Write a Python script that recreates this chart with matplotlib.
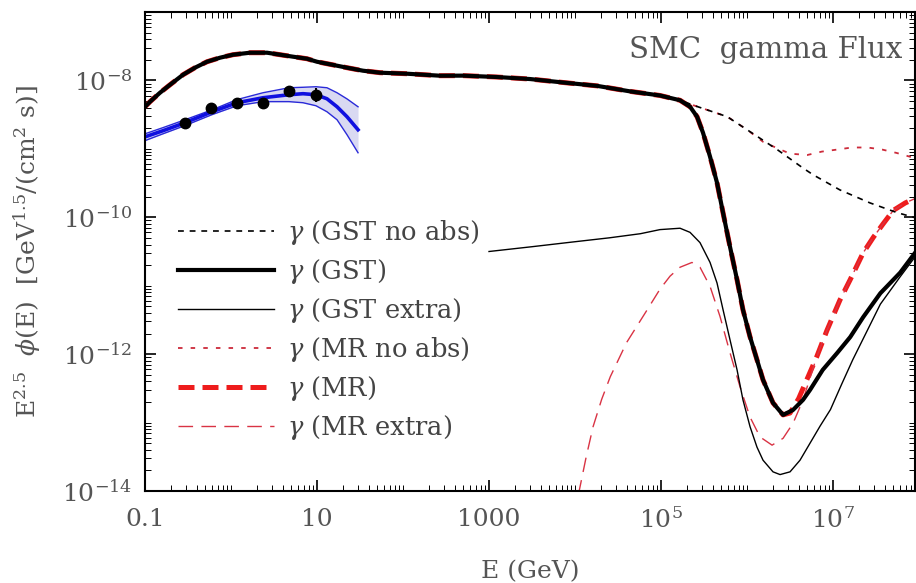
import numpy as np
import matplotlib
matplotlib.use("Agg")
import matplotlib.pyplot as plt
from matplotlib.ticker import LogLocator, NullFormatter

plt.rcParams['font.family'] = 'DejaVu Serif'
plt.rcParams['mathtext.fontset'] = 'dejavuserif'

# all curves are stored as log10(E / GeV) and log10(E^2.5 phi)
# GST total flux (absorbed)
gst_logE = [-1.0, -0.942, -0.826, -0.709, -0.558, -0.419, -0.279, -0.128, 0.023, 0.221,
            0.419, 0.570, 0.721, 0.884, 1.0, 1.174, 1.349, 1.535, 1.733, 2.047,
            2.43, 2.70, 3.09, 3.48, 3.86, 4.26, 4.64, 4.988, 5.221, 5.337,
            5.419, 5.488, 5.570, 5.651, 5.721, 5.802, 5.884, 5.953, 6.035, 6.116,
            6.186, 6.302, 6.419, 6.535, 6.651, 6.733, 6.88, 7.05, 7.20, 7.35,
            7.55, 7.78, 7.965]
gst_logF = [-8.385, -8.311, -8.180, -8.063, -7.917, -7.814, -7.727, -7.668, -7.624, -7.595,
            -7.595, -7.624, -7.653, -7.683, -7.727, -7.770, -7.814, -7.858, -7.887, -7.902,
            -7.931, -7.93, -7.95, -7.98, -8.03, -8.08, -8.16, -8.22, -8.29, -8.384,
            -8.530, -8.764, -9.115, -9.495, -9.934, -10.431, -10.914, -11.353, -11.748, -12.084,
            -12.376, -12.712, -12.888, -12.815, -12.668, -12.522, -12.23, -11.98, -11.75, -11.46,
            -11.11, -10.81, -10.50]

# high energy tail without absorption (below 1e5 GeV it is the same as the total)
gst_noabs_logE = [5.221, 5.37, 5.77, 6.0, 6.35, 6.65, 6.77, 7.08, 7.43, 7.74, 7.965]
gst_noabs_logF = [-8.29, -8.36, -8.53, -8.72, -9.01, -9.28, -9.38, -9.60, -9.79, -9.93, -10.01]

gst_extra_logE = [3.0, 3.50, 3.98, 4.40, 4.76, 4.988, 5.221, 5.337, 5.453, 5.570,
                  5.651, 5.721, 5.802, 5.884, 5.953, 6.035, 6.116, 6.186, 6.302, 6.384,
                  6.500, 6.616, 6.733, 6.85, 6.97, 7.10, 7.23, 7.40, 7.55, 7.78, 7.965]
gst_extra_logF = [-10.50, -10.43, -10.36, -10.30, -10.24, -10.18, -10.16, -10.22, -10.37, -10.66,
                  -10.96, -11.35, -11.79, -12.23, -12.67, -13.06, -13.36, -13.55, -13.72, -13.76,
                  -13.72, -13.55, -13.30, -13.05, -12.81, -12.44, -12.08, -11.65, -11.27, -10.87, -10.56]

# MR model: identical to GST below ~2e6 GeV
mr_tail_logE = [6.50, 6.60, 6.70, 6.81, 6.93, 7.08, 7.20, 7.35, 7.47, 7.58, 7.70, 7.84, 7.965]
mr_tail_logF = [-12.86, -12.65, -12.36, -12.04, -11.65, -11.21, -10.91, -10.52, -10.29, -10.10, -9.90, -9.79, -9.72]

mr_noabs_logE = [5.221, 5.37, 5.77, 6.0, 6.19, 6.35, 6.50, 6.70, 6.87, 7.05, 7.22, 7.40, 7.57, 7.74, 7.965]
mr_noabs_logF = [-8.29, -8.36, -8.53, -8.72, -8.90, -8.99, -9.07, -9.09, -9.04, -9.01, -8.98, -8.98, -9.01, -9.06, -9.14]

mr_extra_logE = [4.04, 4.13, 4.21, 4.31, 4.41, 4.60, 4.84, 4.988, 5.105, 5.221, 5.36,
                 5.453, 5.570, 5.686, 5.802, 5.919, 6.035, 6.151, 6.291, 6.419, 6.535, 6.651]
mr_extra_logF = [-14.05, -13.50, -13.06, -12.66, -12.33, -11.83, -11.35, -11.05, -10.86, -10.73, -10.66,
                 -10.73, -11.01, -11.45, -11.98, -12.48, -12.92, -13.21, -13.33, -13.23, -13.01, -12.67]

# Fermi-LAT fit band and points
fit_logE = [-1.0, -0.791, -0.535, -0.221, 0.070, 0.372, 0.674, 0.837, 0.988, 1.116, 1.233, 1.349, 1.477]
fit_mid = [-8.825, -8.735, -8.618, -8.458, -8.326, -8.253, -8.209, -8.194, -8.209, -8.268, -8.385, -8.531, -8.721]
fit_hi = [-8.78, -8.69, -8.575, -8.43, -8.28, -8.18, -8.107, -8.10, -8.092, -8.107, -8.18, -8.27, -8.385]
fit_lo = [-8.88, -8.78, -8.66, -8.50, -8.37, -8.31, -8.31, -8.326, -8.37, -8.458, -8.575, -8.794, -9.057]

data_logE = [-0.535, -0.23, 0.07, 0.37, 0.67, 0.99]
data_logF = [-8.62, -8.41, -8.33, -8.33, -8.15, -8.21]
data_err = [0.0, 0.0, 0.0, 0.0, 0.0, 0.10]


def p(a):
    return 10.0 ** np.asarray(a)


gE, gF = np.asarray(gst_logE), np.asarray(gst_logF)
low = gE < 5.2
noabsE = np.concatenate([gE[low], gst_noabs_logE])
noabsF = np.concatenate([gF[low], gst_noabs_logF])
mrnE = np.concatenate([gE[low], mr_noabs_logE])
mrnF = np.concatenate([gF[low], mr_noabs_logF])
keep = gE < 6.45
mrE = np.concatenate([gE[keep], mr_tail_logE])
mrF = np.concatenate([gF[keep], mr_tail_logF])
tE, tF = np.asarray(mr_tail_logE), np.asarray(mr_tail_logF)
mrxE = np.concatenate([mr_extra_logE, tE[tE > 6.75]])
mrxF = np.concatenate([mr_extra_logF, tF[tE > 6.75]])

fig = plt.figure(figsize=(9.16, 5.83), dpi=100)
ax = fig.add_axes([145 / 916, 92 / 583, 770 / 916, 479 / 583])

red = '#ee1c1c'
h_mr, = ax.plot(p(mrE), p(mrF), color=red, lw=3.6, dashes=(3.2, 1.6), label=r'$\gamma$ (MR)', zorder=2)
h_mrx, = ax.plot(p(mrxE), p(mrxF), color='#d93344', lw=1.0, dashes=(10.5, 6), label=r'$\gamma$ (MR extra)', zorder=2)
h_mrn, = ax.plot(p(mrnE), p(mrnF), color='#cc2a3a', lw=1.3, dashes=(2.5, 4.5), label=r'$\gamma$ (MR no abs)', zorder=2)
h_gn, = ax.plot(p(noabsE), p(noabsF), color='black', lw=1.2, dashes=(3.5, 3.5), label=r'$\gamma$ (GST no abs)', zorder=3)
h_gx, = ax.plot(p(gst_extra_logE), p(gst_extra_logF), color='black', lw=1.0, label=r'$\gamma$ (GST extra)', zorder=3)
h_g, = ax.plot(p(gE), p(gF), color='black', lw=3.0, label=r'$\gamma$ (GST)', zorder=4)

# fit band
ax.fill_between(p(fit_logE), p(fit_lo), p(fit_hi), color='#d9d9f2', lw=0, zorder=1)
ax.plot(p(fit_logE), p(fit_hi), color='#2a2ad8', lw=1.0, zorder=2)
ax.plot(p(fit_logE), p(fit_lo), color='#2a2ad8', lw=1.0, zorder=2)
ax.plot(p(fit_logE), p(fit_mid), color='#1010e0', lw=2.6, zorder=2)

dF = np.asarray(data_logF)
de = np.asarray(data_err)
ax.errorbar(p(data_logE), p(dF), yerr=[p(dF) - p(dF - de), p(dF + de) - p(dF)],
            fmt='o', color='black', ms=7.5, elinewidth=1.5, capsize=0, zorder=5)

ax.set_xscale('log')
ax.set_yscale('log')
ax.set_xlim(0.1, 10 ** 7.953)
ax.set_ylim(1e-14, 1e-7)

ax.set_xticks([0.1, 10, 1e3, 1e5, 1e7], labels=['0.1', '10', '1000', r'$10^5$', r'$10^7$'])
ax.set_yticks([1e-14, 1e-12, 1e-10, 1e-8], labels=[r'$10^{-14}$', r'$10^{-12}$', r'$10^{-10}$', r'$10^{-8}$'])
for axis in (ax.xaxis, ax.yaxis):
    axis.set_minor_locator(LogLocator(base=10, subs=np.arange(1, 10), numticks=100))
    axis.set_minor_formatter(NullFormatter())

ax.tick_params(which='both', direction='in', top=True, right=True, colors='black', labelcolor='#555555')
ax.tick_params(which='major', length=8, width=1.2, labelsize=18)
ax.tick_params(axis='x', which='major', pad=12)
ax.tick_params(axis='y', which='major', pad=9)
ax.tick_params(which='minor', length=4, width=0.7)
for s in ax.spines.values():
    s.set_linewidth(1.5)

ax.set_xlabel('E (GeV)', fontsize=18, color='#555555', labelpad=19)
ax.set_ylabel(r'E$^{2.5}$  $\phi$(E)  [GeV$^{1.5}$/(cm$^2$ s)]', fontsize=18, color='#555555', labelpad=14)

ax.text(0.983, 0.921, 'SMC  gamma Flux', transform=ax.transAxes, ha='right', va='center',
        fontsize=21, color='#555555')

leg = ax.legend(handles=[h_gn, h_g, h_gx, h_mrn, h_mr, h_mrx], loc='upper left',
                bbox_to_anchor=(0.029, 0.591), frameon=False, fontsize=18.5, handlelength=3.75,
                handletextpad=0.5, labelspacing=0.39, borderaxespad=0)
for t in leg.get_texts():
    t.set_color('#444444')

fig.savefig('out.png', dpi=100)
